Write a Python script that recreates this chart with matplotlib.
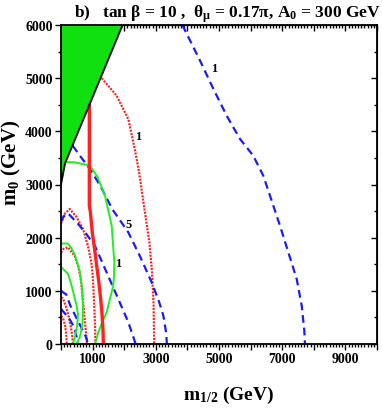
import matplotlib
matplotlib.use("Agg")
import matplotlib.pyplot as plt
from matplotlib.ticker import MultipleLocator, FuncFormatter

plt.rcParams["font.family"] = ["Liberation Serif", "DejaVu Serif"]
plt.rcParams["font.weight"] = "bold"
plt.rcParams["mathtext.fontset"] = "custom"
plt.rcParams["mathtext.rm"] = "Liberation Serif:bold"
plt.rcParams["mathtext.it"] = "Liberation Serif:bold"
plt.rcParams["mathtext.bf"] = "Liberation Serif:bold"

# excluded region (green wedge) boundary
bound_m12 = [0, 130, 1950]
bound_m0 = [3000, 3400, 6000]

# thick red line
red_thick_m12 = [896, 896, 930, 990, 1060, 1130, 1200, 1256, 1300, 1330, 1340]
red_thick_m0 = [4500, 2600, 2480, 2100, 1800, 1470, 1150, 846, 550, 250, 0]

# red dotted contours
red1_m12 = [1290, 1760, 2130, 2340, 2480, 2600, 2700, 2800, 2880, 2930, 2950]
red1_m0 = [5000, 4670, 4230, 3650, 3200, 2700, 2300, 1900, 1350, 750, 0]
red2_m12 = [0, 120, 275, 480, 700, 850, 960, 1000, 1050, 1080, 1090]
red2_m0 = [2260, 2450, 2540, 2400, 2160, 1850, 1540, 1320, 750, 300, 0]
red3_m12 = [0, 80, 220, 430, 540, 620, 700, 760, 800, 820]
red3_m0 = [1720, 1790, 1820, 1660, 1470, 1250, 800, 400, 150, 0]
red4_m12 = [0, 60, 150, 250, 320, 360, 380]
red4_m0 = [870, 860, 720, 500, 300, 120, 0]
red5_m12 = [0, 60, 130, 170, 180]
red5_m0 = [520, 500, 350, 150, 0]

# blue dashed contours
blue1_m12 = [3840, 4400, 4820, 5243, 5665, 6085, 6402, 6667, 6930, 7193, 7459, 7617, 7700, 7720]
blue1_m0 = [6000, 5330, 4800, 4294, 3856, 3541, 3165, 2695, 2225, 1725, 1222, 720, 250, 0]
blue2_m12 = [370, 600, 920, 1240, 1630, 2130, 2500, 2870, 3100, 3240, 3330, 3350]
blue2_m0 = [3730, 3540, 3290, 2980, 2530, 2100, 1650, 1160, 800, 530, 200, 0]
blue3_m12 = [0, 80, 220, 540, 800, 1070, 1390, 1810, 2130, 2340, 2360]
blue3_m0 = [2300, 2400, 2460, 2260, 2070, 1850, 1420, 850, 410, 40, 0]
blue4_m12 = [0, 170, 275, 430, 590, 700, 800, 850]
blue4_m0 = [1000, 930, 750, 560, 370, 240, 120, 0]
blue5_m12 = [0, 130, 290, 390, 450, 500, 530]
blue5_m0 = [660, 570, 450, 340, 250, 120, 0]

# green solid contours
green1_m12 = [130, 400, 813, 918, 1150, 1392, 1604, 1687, 1680, 1655, 1550, 1446, 1300, 1180, 1076]
green1_m0 = [3420, 3420, 3370, 3350, 3150, 2790, 2225, 1540, 1300, 1100, 850, 600, 400, 220, 0]
green2_m12 = [0, 220, 330, 430, 590, 665, 696, 680, 640, 590, 484]
green2_m0 = [1890, 1890, 1800, 1690, 1380, 1060, 700, 400, 250, 120, 0]
green3_m12 = [0, 220, 326, 420, 484, 538, 520, 484, 430, 380]
green3_m0 = [1450, 1320, 1120, 900, 750, 560, 400, 250, 120, 0]

# contour labels
label_text = ["1", "1", "5", "1"]
label_m12 = [4840, 2446, 2130, 1814]
label_m0 = [5185, 3906, 2257, 1523]

fig = plt.figure(figsize=(3.82, 4.10), dpi=100)
ax = fig.add_axes([61 / 382, 1 - 345 / 410, 316 / 382, 319 / 410])

green_fill = "#10e010"
ax.fill(bound_m12 + [0], bound_m0 + [6000], color=green_fill, lw=0, zorder=1)
ax.plot(bound_m12, bound_m0, color="black", lw=1.3, zorder=3)

dot = (0, (0.9, 0.6))
dash = (0, (3.5, 2.2))
red = "#ff2020"
blue = "#1a1aff"
green = "#20ee20"

for xs, ys in [(red1_m12, red1_m0), (red2_m12, red2_m0), (red3_m12, red3_m0),
               (red4_m12, red4_m0), (red5_m12, red5_m0)]:
    ax.plot(xs, ys, color=red, lw=1.6, linestyle=dot, zorder=2)

for xs, ys in [(blue1_m12, blue1_m0), (blue2_m12, blue2_m0), (blue3_m12, blue3_m0),
               (blue4_m12, blue4_m0), (blue5_m12, blue5_m0)]:
    ax.plot(xs, ys, color=blue, lw=1.6, linestyle=dash, zorder=2)

for xs, ys in [(green1_m12, green1_m0), (green2_m12, green2_m0), (green3_m12, green3_m0)]:
    ax.plot(xs, ys, color=green, lw=1.4, zorder=2)

ax.plot(red_thick_m12, red_thick_m0, color=red, lw=2.4, zorder=2)

for t, x, y in zip(label_text, label_m12, label_m0):
    ax.text(x, y, t, fontsize=9, fontweight="bold", ha="center", va="center")

ax.set_xlim(0, 10000)
ax.set_ylim(0, 6000)

ax.xaxis.set_major_locator(MultipleLocator(1000))
ax.xaxis.set_minor_locator(MultipleLocator(100))
ax.xaxis.set_major_formatter(
    FuncFormatter(lambda v, p: f"{int(v)}" if int(v) % 2000 == 1000 else "")
)
ax.yaxis.set_major_locator(MultipleLocator(1000))
ax.yaxis.set_minor_locator(MultipleLocator(500))

ax.tick_params(which="both", direction="out", top=False, right=False,
               labelsize=10, width=1.0, pad=2)
ax.tick_params(which="major", length=4)
ax.tick_params(which="minor", length=2)
for lab in ax.get_xticklabels() + ax.get_yticklabels():
    lab.set_fontweight("bold")

# top and right ticks point inward
top = ax.secondary_xaxis("top")
top.xaxis.set_major_locator(MultipleLocator(1000))
top.xaxis.set_minor_locator(MultipleLocator(100))
top.tick_params(which="both", direction="in", labeltop=False, width=1.0)
top.tick_params(which="major", length=4)
top.tick_params(which="minor", length=2)
right = ax.secondary_yaxis("right")
right.yaxis.set_major_locator(MultipleLocator(1000))
right.yaxis.set_minor_locator(MultipleLocator(500))
right.tick_params(which="both", direction="in", labelright=False, width=1.0)
right.tick_params(which="major", length=4)
right.tick_params(which="minor", length=2)

for s in ax.spines.values():
    s.set_linewidth(1.3)

ax.set_xlabel(r"m$_{1/2}$ (GeV)", fontsize=14, fontweight="bold")
ax.xaxis.set_label_coords(0.53, -0.125)
ax.set_ylabel(r"m$_0$ (GeV)", fontsize=15, fontweight="bold")
ax.yaxis.set_label_coords(-0.12, 0.57)

fig.text(0.595, 0.966, r"b)   tan $\beta$ = 10 ,  $\theta_\mu$ = 0.17$\pi$, A$_0$ = 300 GeV",
         fontsize=12.5, fontweight="bold", ha="center", va="center")

fig.savefig("out.png", dpi=100)
